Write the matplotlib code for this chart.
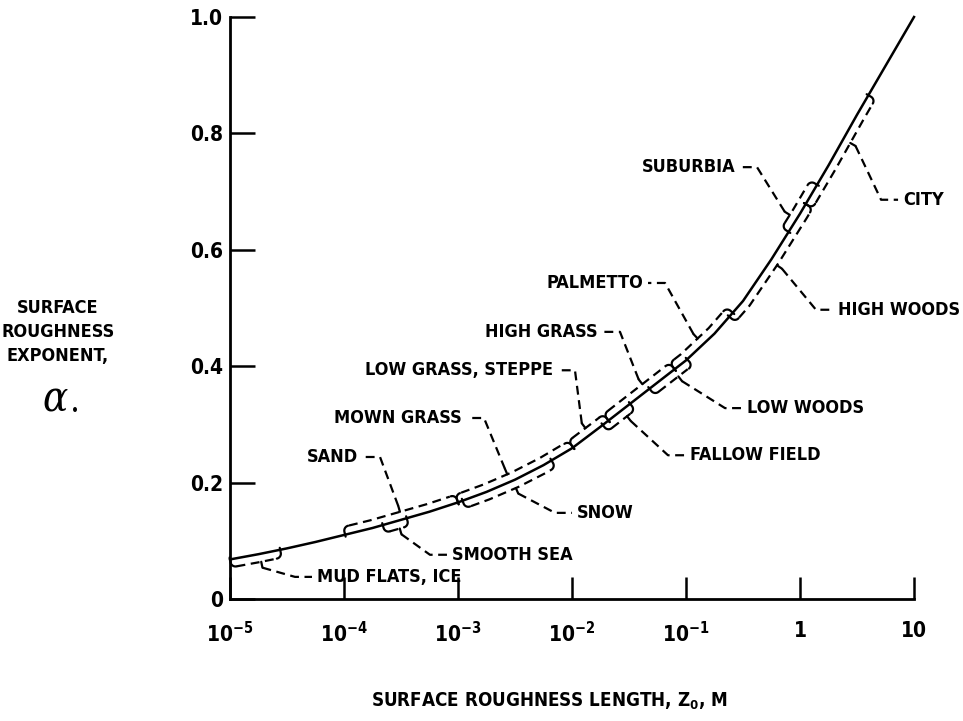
import numpy as np
import matplotlib.pyplot as plt

plt.rcParams['font.family'] = ['DejaVu Sans']
plt.rcParams['font.stretch'] = 'condensed'

# alpha vs roughness length (log10 z0 in metres)
log_z0 = [-5.0, -4.75, -4.5, -4.25, -4.0, -3.75, -3.5, -3.25, -3.0, -2.75, -2.5, -2.25,
          -2.0, -1.75, -1.5, -1.25, -1.0, -0.75, -0.5, -0.25, 0.0, 0.25, 0.5, 0.75, 1.0]
alpha = [0.068, 0.077, 0.087, 0.098, 0.110, 0.122, 0.136, 0.150, 0.166, 0.184, 0.205, 0.230,
         0.259, 0.296, 0.334, 0.372, 0.410, 0.456, 0.512, 0.584, 0.662, 0.745, 0.832, 0.916, 1.0]

# terrain types and the z0 range (log10) each one covers
terrain = ["MUD FLATS, ICE", "SMOOTH SEA", "SAND", "SNOW", "MOWN GRASS", "LOW GRASS, STEPPE",
           "FALLOW FIELD", "HIGH GRASS", "LOW WOODS", "PALMETTO", "HIGH WOODS", "SUBURBIA", "CITY"]
range_lo = [-5.0, -3.66, -3.99, -2.96, -3.0, -1.99, -1.73, -1.68, -1.32, -1.1, -0.62, -0.1, 0.05]
range_hi = [-4.56, -3.45, -3.0, -2.18, -1.99, -1.68, -1.49, -1.1, -0.99, -0.59, 0.05, 0.15, 0.6]
range_mid = [-4.74, -3.53, -3.49, -2.52, -2.54, -1.84, -1.56, -1.34, -1.11, -0.85, -0.26, -0.03, 0.38]
side = [-1, -1, 1, -1, 1, 1, -1, 1, -1, 1, -1, 1, -1]   # +1 bracket above curve

# label placement (log10 z0, alpha, alignment)
label_lx = [-4.237, -3.053, -3.877, -1.956, -2.965, -2.167, -0.965, -1.772, -0.465, -1.377, 0.333, -0.570, 0.904]
label_y = [0.038, 0.076, 0.244, 0.148, 0.311, 0.393, 0.247, 0.459, 0.328, 0.543, 0.497, 0.742, 0.686]
label_ha = ["left", "left", "right", "left", "right", "right", "left", "right", "left", "right", "left", "right", "left"]

y_ticks = [0, 0.2, 0.4, 0.6, 0.8, 1.0]
y_tick_labels = ["0", "0.2", "0.4", "0.6", "0.8", "1.0"]
x_ticks = [1e-5, 1e-4, 1e-3, 1e-2, 1e-1, 1, 10]
x_tick_labels = [r"$\mathregular{10^{-5}}$", r"$\mathregular{10^{-4}}$", r"$\mathregular{10^{-3}}$",
                 r"$\mathregular{10^{-2}}$", r"$\mathregular{10^{-1}}$", "1", "10"]

fig = plt.figure(figsize=(9.63, 7.21), dpi=100)
ax = fig.add_axes([230 / 963, 122 / 721, 684 / 963, 582 / 721])
ax.set_xscale('log')
ax.set_xlim(1e-5, 10)
ax.set_ylim(0, 1.0)
for s in ['top', 'right']:
    ax.spines[s].set_visible(False)
for s in ['left', 'bottom']:
    ax.spines[s].set_linewidth(2.0)
ax.minorticks_off()
ax.set_xticks(x_ticks)
ax.set_xticklabels(x_tick_labels)
ax.set_yticks(y_ticks)
ax.set_yticklabels(y_tick_labels)
ax.tick_params(axis='x', direction='in', length=16, width=1.8, pad=16, labelsize=15)
ax.tick_params(axis='y', direction='in', length=18, width=1.8, pad=5, labelsize=15)
for lab in ax.get_xticklabels() + ax.get_yticklabels():
    lab.set_fontweight('bold')

z0 = 10.0 ** np.array(log_z0)
ax.plot(z0, alpha, color='black', lw=1.8, clip_on=False)

# brackets are drawn in pixel space, offset from the curve, then mapped back
tr = ax.transData
inv = tr.inverted()
curve_px = tr.transform(np.column_stack([z0, alpha]))
d_off, r_hook = 8.0, 5.0
dash = dict(color='black', lw=1.6, linestyle=(0, (4, 2.5)), clip_on=False)
solid = dict(color='black', lw=1.6, clip_on=False, solid_capstyle='round')


def px_x(lx):
    return tr.transform([[10.0 ** lx, 0.0]])[0, 0]


def segment(lx1, lx2, n=80):
    xs = np.linspace(px_x(lx1), px_x(lx2), n)
    ys = np.interp(xs, curve_px[:, 0], curve_px[:, 1])
    pts = np.column_stack([xs, ys])
    t = np.gradient(pts, axis=0)
    t /= np.linalg.norm(t, axis=1)[:, None]
    nrm = np.column_stack([-t[:, 1], t[:, 0]])
    return pts, t, nrm


def draw_px(pts, **kw):
    dat = inv.transform(pts)
    ax.plot(dat[:, 0], dat[:, 1], **kw)


for i, name in enumerate(terrain):
    sd = side[i]
    pts, t, nrm = segment(range_lo[i], range_hi[i])
    nrm = nrm * sd
    arc = np.concatenate([[0], np.cumsum(np.linalg.norm(np.diff(pts, axis=0), axis=1))])
    keep = (arc >= r_hook) & (arc <= arc[-1] - r_hook)
    draw_px(pts[keep] + nrm[keep] * d_off, **dash)
    th = np.linspace(0, np.pi / 2, 12)
    for k, tsign in ((0, 1), (-1, -1)):
        P, T, N = pts[k], t[k] * tsign, nrm[k]
        hook = (P + np.outer(r_hook - r_hook * np.sin(th), T)
                + np.outer(d_off - r_hook + r_hook * np.cos(th), N))
        hook = np.vstack([hook, P - 2 * N])
        draw_px(hook, **solid)
    # point of the brace and leader to the label
    mp, mt, mn = segment(range_mid[i], range_mid[i] + 0.01, n=3)
    mn = mn[0] * sd
    base = mp[0] + mn * d_off
    tip = mp[0] + mn * (d_off + 6)
    draw_px(np.vstack([base, tip]), **solid)
    anchor = tr.transform([[10.0 ** label_lx[i], label_y[i]]])[0]
    sgn = 1 if label_ha[i] == 'right' else -1
    edge = anchor + np.array([sgn * 5, 0])
    elbow = anchor + np.array([sgn * 22, 0])
    draw_px(np.vstack([tip, elbow, edge]), **dash)
    ax.text(10.0 ** label_lx[i], label_y[i], name, ha=label_ha[i], va='center',
            fontsize=13, fontweight='bold')

fig.text(58 / 963, 1 - 332 / 721, "SURFACE\nROUGHNESS\nEXPONENT,", ha='center', va='center',
         fontsize=13, fontweight='bold', linespacing=1.45)
fig.text(55 / 963, 1 - 400 / 721, "α", ha='center', va='center', fontsize=30,
         fontstyle='italic', family='DejaVu Serif')
fig.text(75 / 963, 1 - 412 / 721, "•", ha='center', va='center', fontsize=11, family='DejaVu Sans')
fig.text(549 / 963, 1 - 701 / 721, r"SURFACE ROUGHNESS LENGTH, Z$_\mathregular{0}$, M",
         ha='center', va='center', fontsize=13.5, fontweight='bold')

fig.savefig('out.png', dpi=100)
